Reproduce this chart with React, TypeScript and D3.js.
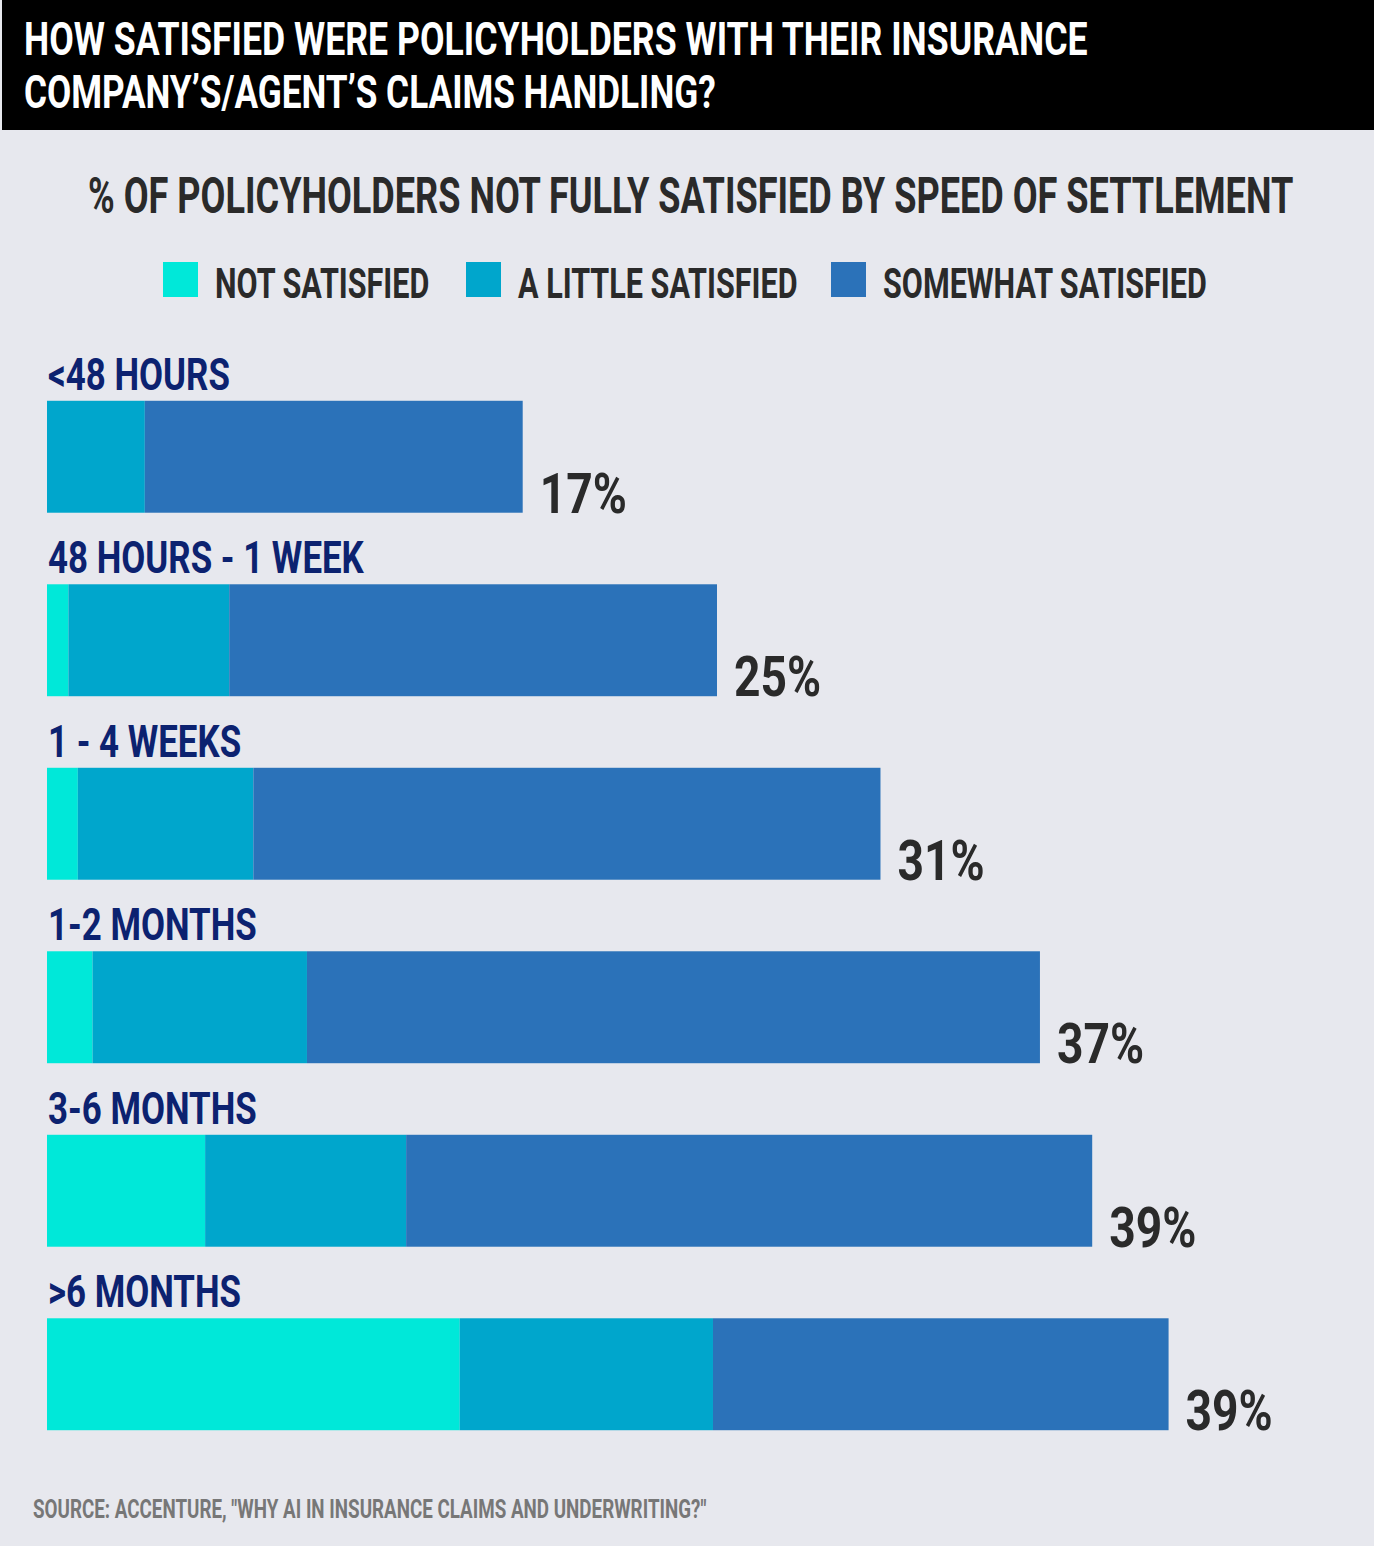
import React from "react";
import * as d3 from "d3";

const TITLE_LINES = [
  "HOW SATISFIED WERE POLICYHOLDERS WITH THEIR INSURANCE",
  "COMPANY\u2019S/AGENT\u2019S CLAIMS HANDLING?",
];
const SUBTITLE = "% OF POLICYHOLDERS NOT FULLY SATISFIED BY SPEED OF SETTLEMENT";
const SOURCE = 'SOURCE: ACCENTURE, "WHY AI IN INSURANCE CLAIMS AND UNDERWRITING?"';

const categories = ["<48 HOURS", "48 HOURS - 1 WEEK", "1 - 4 WEEKS", "1-2 MONTHS", "3-6 MONTHS", ">6 MONTHS"];
const seriesNames = ["NOT SATISFIED", "A LITTLE SATISFIED", "SOMEWHAT SATISFIED"];
const seriesColors = ["#00e8d9", "#00a6cc", "#2b72b9"];
const notSatisfied = [0, 0.8, 1.15, 1.7, 5.9, 15.4];
const aLittleSatisfied = [3.65, 6.0, 6.55, 8.0, 7.5, 9.45];
const somewhatSatisfied = [14.1, 18.2, 23.4, 27.35, 25.6, 17.0];
const totalLabels = ["17%", "25%", "31%", "37%", "39%", "39%"];

const W = 1374;
const H = 1546;
const FONT = "Roboto, 'Open Sans', sans-serif";

export default function App() {
  const x = d3.scaleLinear().domain([0, 46]).range([47, 47 + 46 * 26.8]);
  const y = d3.scaleBand().domain(categories).range([401 - 36, 1430 + 36]).paddingInner(0.39).paddingOuter(0.195);
  const stackData = categories.map((c, i) => ({
    cat: c,
    ns: notSatisfied[i],
    al: aLittleSatisfied[i],
    sw: somewhatSatisfied[i],
  }));
  const stacked = d3.stack<any>().keys(["ns", "al", "sw"])(stackData);

  const cond = (tx: number, ty: number, s: number) => `translate(${tx},${ty}) scale(${s},1)`;

  const legendX = [163, 466, 831];

  return (
    <svg width={W} height={H} style={{ display: "block", position: "absolute", left: 0, top: 0 }}>
      <rect x={0} y={0} width={W} height={H} fill="#e7e8ee" />
      <rect x={2} y={0} width={W - 2} height={130} fill="#000" />
      {TITLE_LINES.map((t, i) => (
        <text
          key={i}
          transform={cond(24, 55 + i * 53, i === 0 ? 0.775 : 0.765)}
          fill="#fff"
          fontFamily={FONT}
          fontWeight={700}
          fontSize={46}
        >
          {t}
        </text>
      ))}
      <text
        transform={cond(88, 213, 0.722)}
        fill="#2a2a2a"
        fontFamily={FONT}
        fontWeight={700}
        fontSize={50}
      >
        {SUBTITLE}
      </text>
      {seriesNames.map((n, i) => (
        <g key={n}>
          <rect x={legendX[i]} y={262} width={35} height={35} fill={seriesColors[i]} />
          <text transform={cond(legendX[i] + 52, 298, 0.728)} fill="#2a2a2a" fontFamily={FONT} fontWeight={700} fontSize={42}>
            {n}
          </text>
        </g>
      ))}
      {stacked.map((layer, li) => (
        <g key={li} fill={seriesColors[li]}>
          {layer.map((d, i) =>
            d[1] - d[0] > 0 ? (
              <rect
                key={i}
                x={x(d[0])}
                y={y(categories[i])!}
                width={x(d[1]) - x(d[0])}
                height={y.bandwidth()}
              />
            ) : null
          )}
        </g>
      ))}
      {categories.map((c) => (
        <text
          key={c}
          transform={cond(48, y(c)! - 11, 0.775)}
          fill="#0c2270"
          fontFamily={FONT}
          fontWeight={700}
          fontSize={45}
        >
          {c}
        </text>
      ))}
      {categories.map((c, i) => {
        const end = stacked[2][i][1];
        return (
          <text
            key={c}
            transform={cond(x(end) + 17, y(c)! + y.bandwidth(), 0.84)}
            fill="#2a2a2a"
            fontFamily={FONT}
            fontWeight={700}
            fontSize={55}
          >
            {totalLabels[i]}
          </text>
        );
      })}
      <text transform={cond(33, 1518, 0.752)} fill="#777" fontFamily={FONT} fontWeight={700} fontSize={25}>
        {SOURCE}
      </text>
    </svg>
  );
}
